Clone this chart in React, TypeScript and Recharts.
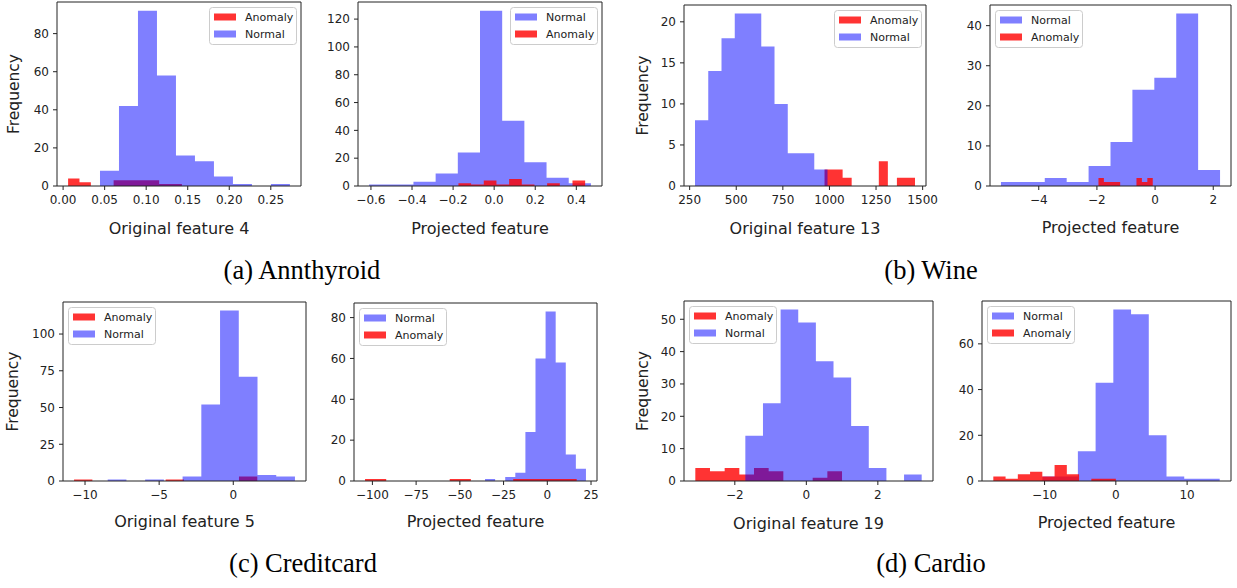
import { ComposedChart, Area, XAxis, YAxis, ReferenceArea } from "recharts";

// (a) Annthyroid - original feature 4
const annOrigAnomalyCounts = [4, 2, 0, 0, 3, 3, 3, 3, 1, 1];
const annOrigAnomalyRange = [0.006, 0.143];
const annOrigNormalCounts = [8, 42, 92, 58, 16, 13, 5, 1, 0, 1];
const annOrigNormalRange = [0.0444, 0.273];
const annOrigXTicks = [0, 0.05, 0.1, 0.15, 0.2, 0.25];
const annOrigXTickLabels = ["0.00", "0.05", "0.10", "0.15", "0.20", "0.25"];
const annOrigYTicks = [0, 20, 40, 60, 80];

// (a) Annthyroid - projected feature
const annProjNormalCounts = [1, 1, 3, 9, 24, 126, 47, 17, 6, 2];
const annProjNormalRange = [-0.609, 0.471];
const annProjAnomalyCounts = [2, 1, 4, 1, 5, 1, 0, 2, 0, 4];
const annProjAnomalyRange = [-0.174, 0.443];
const annProjXTicks = [-0.6, -0.4, -0.2, 0, 0.2, 0.4];
const annProjXTickLabels = ["\u22120.6", "\u22120.4", "\u22120.2", "0.0", "0.2", "0.4"];
const annProjYTicks = [0, 20, 40, 60, 80, 100, 120];

// (b) Wine - original feature 13
const wineOrigAnomalyCounts = [2, 2, 1, 0, 0, 0, 3, 0, 1, 1];
const wineOrigAnomalyRange = [973.6, 1459];
const wineOrigNormalCounts = [8, 14, 18, 21, 21, 17, 10, 4, 4, 2];
const wineOrigNormalRange = [278.7, 989.7];
const wineOrigXTicks = [250, 500, 750, 1000, 1250, 1500];
const wineOrigXTickLabels = ["250", "500", "750", "1000", "1250", "1500"];
const wineOrigYTicks = [0, 5, 10, 15, 20];

// (b) Wine - projected feature
const wineProjNormalCounts = [1, 1, 2, 1, 5, 11, 24, 27, 43, 4];
const wineProjNormalRange = [-5.3, 2.234];
const wineProjAnomalyCounts = [2, 1, 1, 1, 0, 0, 0, 2, 1, 2];
const wineProjAnomalyRange = [-1.947, -0.08];
const wineProjXTicks = [-4, -2, 0, 2];
const wineProjXTickLabels = ["\u22124", "\u22122", "0", "2"];
const wineProjYTicks = [0, 10, 20, 30, 40];

// (c) Creditcard - original feature 5
const ccOrigAnomalyCounts = [1, 0, 0, 0, 0, 1, 0, 0, 0, 3];
const ccOrigAnomalyRange = [-10.74, 1.62];
const ccOrigNormalCounts = [1, 0, 1, 0, 3, 52, 116, 71, 4, 3];
const ccOrigNormalRange = [-8.47, 4.16];
const ccOrigXTicks = [-10, -5, 0];
const ccOrigXTickLabels = ["\u221210", "\u22125", "0"];
const ccOrigYTicks = [0, 25, 50, 75, 100];

// (c) Creditcard - projected feature
const ccProjNormalCounts = [1, 0, 2, 4, 24, 60, 83, 58, 13, 6];
const ccProjNormalRange = [-35.6, 22.1];
const ccProjAnomalyCounts = [1, 0, 0, 0, 1, 0, 0, 1, 1, 1];
const ccProjAnomalyRange = [-104.2, 16.8];
const ccProjXTicks = [-100, -75, -50, -25, 0, 25];
const ccProjXTickLabels = ["\u2212100", "\u221275", "\u221250", "\u221225", "0", "25"];
const ccProjYTicks = [0, 20, 40, 60, 80];

// (d) Cardio - original feature 19
const cardioOrigAnomalyCounts = [4, 3, 4, 2, 4, 3, 0, 0, 1, 3];
const cardioOrigAnomalyRange = [-3.105, 0.998];
const cardioOrigNormalCounts = [14, 24, 53, 49, 37, 32, 17, 4, 0, 2];
const cardioOrigNormalRange = [-1.706, 3.226];
const cardioOrigXTicks = [-2, 0, 2];
const cardioOrigXTickLabels = ["\u22122", "0", "2"];
const cardioOrigYTicks = [0, 10, 20, 30, 40, 50];

// (d) Cardio - projected feature
const cardioProjNormalCounts = [2, 2, 13, 43, 75, 73, 20, 2, 1, 1];
const cardioProjNormalRange = [-10.3, 14.57];
const cardioProjAnomalyCounts = [2, 1, 3, 4, 2, 7, 3, 0, 1, 1];
const cardioProjAnomalyRange = [-17.19, 0];
const cardioProjXTicks = [-10, 0, 10];
const cardioProjXTickLabels = ["\u221210", "0", "10"];
const cardioProjYTicks = [0, 20, 40, 60];

const captions = ["(a) Annthyroid", "(b) Wine", "(c) Creditcard", "(d) Cardio"];

const FONT = "DejaVu Sans";
const INK = "#222222";
const STYLE: Record<string, { fill: string; opacity: number }> = {
  Normal: { fill: "#0000ff", opacity: 0.5 },
  Anomaly: { fill: "#ff0000", opacity: 0.8 },
};

type Hist = { name: string; counts: number[]; range: number[] };
type Panel = {
  l: number;
  r: number;
  t: number;
  b: number;
  series: Hist[];
  legend: "left" | "right";
  xTicks: number[];
  xTickLabels: string[];
  yTicks: number[];
  xLabel: string;
  xLabelDist: number;
  yLabelDist?: number;
};

// histogram as a step outline: one point per bin edge
function steps(counts: number[], range: number[]) {
  const n = counts.length;
  const w = (range[1] - range[0]) / n;
  const pts = counts.map((c, i) => ({ x: range[0] + i * w, y: c }));
  pts.push({ x: range[1], y: counts[n - 1] });
  return pts;
}

const anomaly = (counts: number[], range: number[]): Hist => ({ name: "Anomaly", counts, range });
const normal = (counts: number[], range: number[]): Hist => ({ name: "Normal", counts, range });

const panels: Panel[] = [
  {
    l: 57, r: 301, t: 2, b: 186, legend: "right",
    series: [anomaly(annOrigAnomalyCounts, annOrigAnomalyRange), normal(annOrigNormalCounts, annOrigNormalRange)],
    xTicks: annOrigXTicks, xTickLabels: annOrigXTickLabels, yTicks: annOrigYTicks,
    xLabel: "Original feature 4", xLabelDist: 42, yLabelDist: 44,
  },
  {
    l: 358, r: 602, t: 2, b: 186, legend: "right",
    series: [normal(annProjNormalCounts, annProjNormalRange), anomaly(annProjAnomalyCounts, annProjAnomalyRange)],
    xTicks: annProjXTicks, xTickLabels: annProjXTickLabels, yTicks: annProjYTicks,
    xLabel: "Projected feature", xLabelDist: 42,
  },
  {
    l: 684, r: 926, t: 5, b: 186, legend: "right",
    series: [anomaly(wineOrigAnomalyCounts, wineOrigAnomalyRange), normal(wineOrigNormalCounts, wineOrigNormalRange)],
    xTicks: wineOrigXTicks, xTickLabels: wineOrigXTickLabels, yTicks: wineOrigYTicks,
    xLabel: "Original feature 13", xLabelDist: 42, yLabelDist: 42,
  },
  {
    l: 990, r: 1231, t: 5, b: 186, legend: "left",
    series: [normal(wineProjNormalCounts, wineProjNormalRange), anomaly(wineProjAnomalyCounts, wineProjAnomalyRange)],
    xTicks: wineProjXTicks, xTickLabels: wineProjXTickLabels, yTicks: wineProjYTicks,
    xLabel: "Projected feature", xLabelDist: 41,
  },
  {
    l: 63, r: 306, t: 302, b: 481, legend: "left",
    series: [anomaly(ccOrigAnomalyCounts, ccOrigAnomalyRange), normal(ccOrigNormalCounts, ccOrigNormalRange)],
    xTicks: ccOrigXTicks, xTickLabels: ccOrigXTickLabels, yTicks: ccOrigYTicks,
    xLabel: "Original feature 5", xLabelDist: 40, yLabelDist: 50.5,
  },
  {
    l: 354, r: 597, t: 303, b: 481, legend: "left",
    series: [normal(ccProjNormalCounts, ccProjNormalRange), anomaly(ccProjAnomalyCounts, ccProjAnomalyRange)],
    xTicks: ccProjXTicks, xTickLabels: ccProjXTickLabels, yTicks: ccProjYTicks,
    xLabel: "Projected feature", xLabelDist: 40,
  },
  {
    l: 684, r: 933, t: 301, b: 481, legend: "left",
    series: [anomaly(cardioOrigAnomalyCounts, cardioOrigAnomalyRange), normal(cardioOrigNormalCounts, cardioOrigNormalRange)],
    xTicks: cardioOrigXTicks, xTickLabels: cardioOrigXTickLabels, yTicks: cardioOrigYTicks,
    xLabel: "Original feature 19", xLabelDist: 42, yLabelDist: 42,
  },
  {
    l: 982, r: 1231, t: 301, b: 481, legend: "left",
    series: [normal(cardioProjNormalCounts, cardioProjNormalRange), anomaly(cardioProjAnomalyCounts, cardioProjAnomalyRange)],
    xTicks: cardioProjXTicks, xTickLabels: cardioProjXTickLabels, yTicks: cardioProjYTicks,
    xLabel: "Projected feature", xLabelDist: 41,
  },
];

const AXW = 60;
const AXH = 60;
const MT = 10;
const MR = 24;

function HistPanel({ p }: { p: Panel }) {
  const lo = Math.min(...p.series.map((s) => s.range[0]));
  const hi = Math.max(...p.series.map((s) => s.range[1]));
  const pad = (hi - lo) * 0.05;
  const xDomain = [lo - pad, hi + pad];
  const yMax = Math.max(...p.series.flatMap((s) => s.counts)) * 1.05;
  const width = p.r - p.l + AXW + MR;
  const height = p.b - p.t + MT + AXH;

  return (
    <div style={{ position: "absolute", left: p.l - AXW, top: p.t - MT }}>
      <ComposedChart width={width} height={height} margin={{ top: MT, right: MR, left: 0, bottom: 0 }}>
        <XAxis
          type="number"
          dataKey="x"
          domain={xDomain}
          allowDataOverflow
          ticks={p.xTicks}
          interval={0}
          height={AXH}
          axisLine={false}
          tickLine={{ stroke: INK }}
          tickSize={4}
          tickMargin={5}
          tick={{ fontSize: 12, fill: INK, fontFamily: FONT }}
          tickFormatter={(v: number) => p.xTickLabels[p.xTicks.indexOf(v)] ?? String(v)}
          label={{
            value: p.xLabel,
            position: "insideBottom",
            offset: AXH - p.xLabelDist - 5.5,
            fontSize: 16,
            fill: INK,
            fontFamily: FONT,
          }}
        />
        <YAxis
          type="number"
          domain={[0, yMax]}
          allowDataOverflow
          ticks={p.yTicks}
          interval={0}
          width={AXW}
          axisLine={false}
          tickLine={{ stroke: INK }}
          tickSize={4}
          tickMargin={4}
          tick={{ fontSize: 12, fill: INK, fontFamily: FONT }}
          label={
            p.yLabelDist
              ? {
                  value: "Frequency",
                  angle: -90,
                  position: "insideLeft",
                  offset: AXW - p.yLabelDist,
                  style: { textAnchor: "middle" },
                  fontSize: 15.5,
                  fill: INK,
                  fontFamily: FONT,
                }
              : undefined
          }
        />
        {p.series.map((s) => (
          <Area
            key={s.name}
            data={steps(s.counts, s.range)}
            dataKey="y"
            type="stepAfter"
            baseValue={0}
            stroke="none"
            fill={STYLE[s.name].fill}
            fillOpacity={STYLE[s.name].opacity}
            dot={false}
            activeDot={false}
            isAnimationActive={false}
          />
        ))}
        <ReferenceArea
          x1={xDomain[0]}
          x2={xDomain[1]}
          y1={0}
          y2={yMax}
          fill="none"
          stroke={INK}
          strokeWidth={1}
          ifOverflow="visible"
        />
      </ComposedChart>
    </div>
  );
}

const LEG_W = 87;
const LEG_H = 37;

function LegendBox({ p }: { p: Panel }) {
  const x = p.legend === "right" ? p.r - 5 - LEG_W : p.l + 5;
  const y = p.t + 5;
  return (
    <g>
      <rect x={x + 0.5} y={y + 0.5} width={LEG_W} height={LEG_H} rx={3} fill="#ffffff" fillOpacity={0.8} stroke="#cccccc" />
      {p.series.map((s, i) => (
        <g key={s.name}>
          <rect x={x + 5} y={y + 6.5 + i * 17} width={22} height={7} fill={STYLE[s.name].fill} fillOpacity={STYLE[s.name].opacity} />
          <text x={x + 36} y={y + 14 + i * 17} fontSize={11} fill={INK} fontFamily={FONT}>
            {s.name}
          </text>
        </g>
      ))}
    </g>
  );
}

const captionPos = [
  { x: 302, y: 279 },
  { x: 931, y: 279 },
  { x: 303, y: 572 },
  { x: 931, y: 572 },
];

export default function App() {
  return (
    <div style={{ position: "absolute", left: 0, top: 0, width: 1237, height: 588, background: "#ffffff", fontFamily: FONT, overflow: "hidden" }}>
      {panels.map((p, i) => (
        <HistPanel key={i} p={p} />
      ))}
      <svg width={1237} height={588} style={{ position: "absolute", left: 0, top: 0, pointerEvents: "none" }}>
        {panels.map((p, i) => (
          <LegendBox key={i} p={p} />
        ))}
        {captions.map((c, i) => (
          <text key={c} x={captionPos[i].x} y={captionPos[i].y} textAnchor="middle" fontSize={26.5} fontFamily="Liberation Serif" fill="#000000">
            {c}
          </text>
        ))}
      </svg>
    </div>
  );
}
